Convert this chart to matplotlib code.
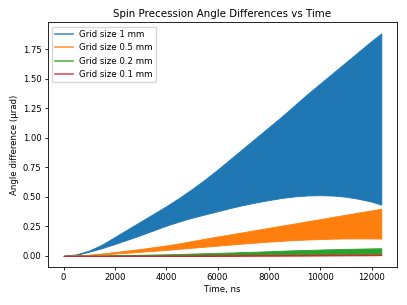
import numpy as np
import matplotlib
matplotlib.use("Agg")
import matplotlib.pyplot as plt
from matplotlib.lines import Line2D

# time samples (ns) and envelope values (urad)
time_ns = [0, 500, 1000, 1500, 2000, 2500, 3000, 3500, 4000, 4500, 5000, 5500, 6000,
           6500, 7000, 7500, 8000, 8500, 9000, 9500, 10000, 10500, 11000, 11500, 12000, 12375]

upper_1mm = [0, 0.012, 0.045, 0.095, 0.16, 0.225, 0.29, 0.355, 0.42, 0.49, 0.565, 0.645, 0.73,
             0.82, 0.91, 1.0, 1.09, 1.18, 1.275, 1.37, 1.46, 1.55, 1.64, 1.73, 1.82, 1.883]
lower_1mm = [0, 0.008, 0.035, 0.065, 0.10, 0.137, 0.175, 0.215, 0.255, 0.29, 0.322, 0.35, 0.377,
             0.405, 0.43, 0.452, 0.472, 0.49, 0.503, 0.511, 0.513, 0.51, 0.50, 0.482, 0.458, 0.433]

upper_05mm = [0, 0.003, 0.01, 0.02, 0.032, 0.045, 0.058, 0.073, 0.088, 0.105, 0.125, 0.145, 0.164,
              0.182, 0.2, 0.219, 0.237, 0.256, 0.274, 0.293, 0.311, 0.33, 0.348, 0.367, 0.385, 0.399]
lower_05mm = [0, 0.002, 0.006, 0.012, 0.019, 0.026, 0.034, 0.042, 0.05, 0.059, 0.068, 0.077, 0.086,
              0.095, 0.104, 0.112, 0.12, 0.127, 0.133, 0.138, 0.142, 0.145, 0.147, 0.147, 0.147, 0.146]

upper_02mm = [0, 0.0005, 0.0015, 0.003, 0.005, 0.007, 0.009, 0.011, 0.013, 0.016, 0.019, 0.022, 0.025,
              0.028, 0.032, 0.035, 0.039, 0.043, 0.047, 0.05, 0.053, 0.056, 0.059, 0.061, 0.063, 0.064]
lower_02mm = [0, 0, 0.0005, 0.001, 0.0015, 0.002, 0.0025, 0.003, 0.0035, 0.004, 0.0045, 0.005, 0.0055,
              0.006, 0.007, 0.0075, 0.008, 0.009, 0.0095, 0.010, 0.011, 0.0115, 0.012, 0.013, 0.0135, 0.014]

upper_01mm = [0, 0.0005, 0.001, 0.001, 0.0015, 0.002, 0.002, 0.0025, 0.003, 0.0035, 0.004, 0.0045, 0.005,
              0.0055, 0.006, 0.0065, 0.007, 0.0075, 0.008, 0.0085, 0.009, 0.0095, 0.010, 0.0105, 0.011, 0.011]
lower_01mm = [0, -0.0005, -0.001, -0.001, -0.0015, -0.0015, -0.002, -0.002, -0.002, -0.002, -0.002, -0.0015, -0.001,
              -0.001, -0.0005, 0, 0, 0.0005, 0.001, 0.0015, 0.002, 0.0025, 0.003, 0.0035, 0.004, 0.005]

labels = ["Grid size 1 mm", "Grid size 0.5 mm", "Grid size 0.2 mm", "Grid size 0.1 mm"]
colors = ["#1f77b4", "#ff7f0e", "#2ca02c", "#d62728"]

fig = plt.figure(figsize=(4.07, 3.05), dpi=100)
ax = fig.add_axes([0.117, 0.124, 0.859, 0.803])

bands = [(lower_1mm, upper_1mm), (lower_05mm, upper_05mm),
         (lower_02mm, upper_02mm), (lower_01mm, upper_01mm)]
for (lo, hi), c in zip(bands, colors):
    ax.fill_between(time_ns, lo, hi, color=c, lw=0.6)

handles = [Line2D([], [], color=c, lw=1.2, alpha=0.8) for c in colors]
ax.legend(handles, labels, loc="upper left", fontsize=6.2)

ax.set_xticks(np.arange(0, 12001, 2000))
ax.set_yticks(np.arange(0, 1.76, 0.25))
ax.tick_params(labelsize=6.1, length=2.3, width=0.6, pad=2.2)
for s in ax.spines.values():
    s.set_linewidth(0.6)

ax.set_title("Spin Precession Angle Differences vs Time", fontsize=7.4, pad=4)
ax.set_xlabel("Time, ns", fontsize=6.2, labelpad=2)
ax.set_ylabel("Angle difference (μrad)", fontsize=6.2, labelpad=2.5)

fig.savefig("out.png", dpi=100)
